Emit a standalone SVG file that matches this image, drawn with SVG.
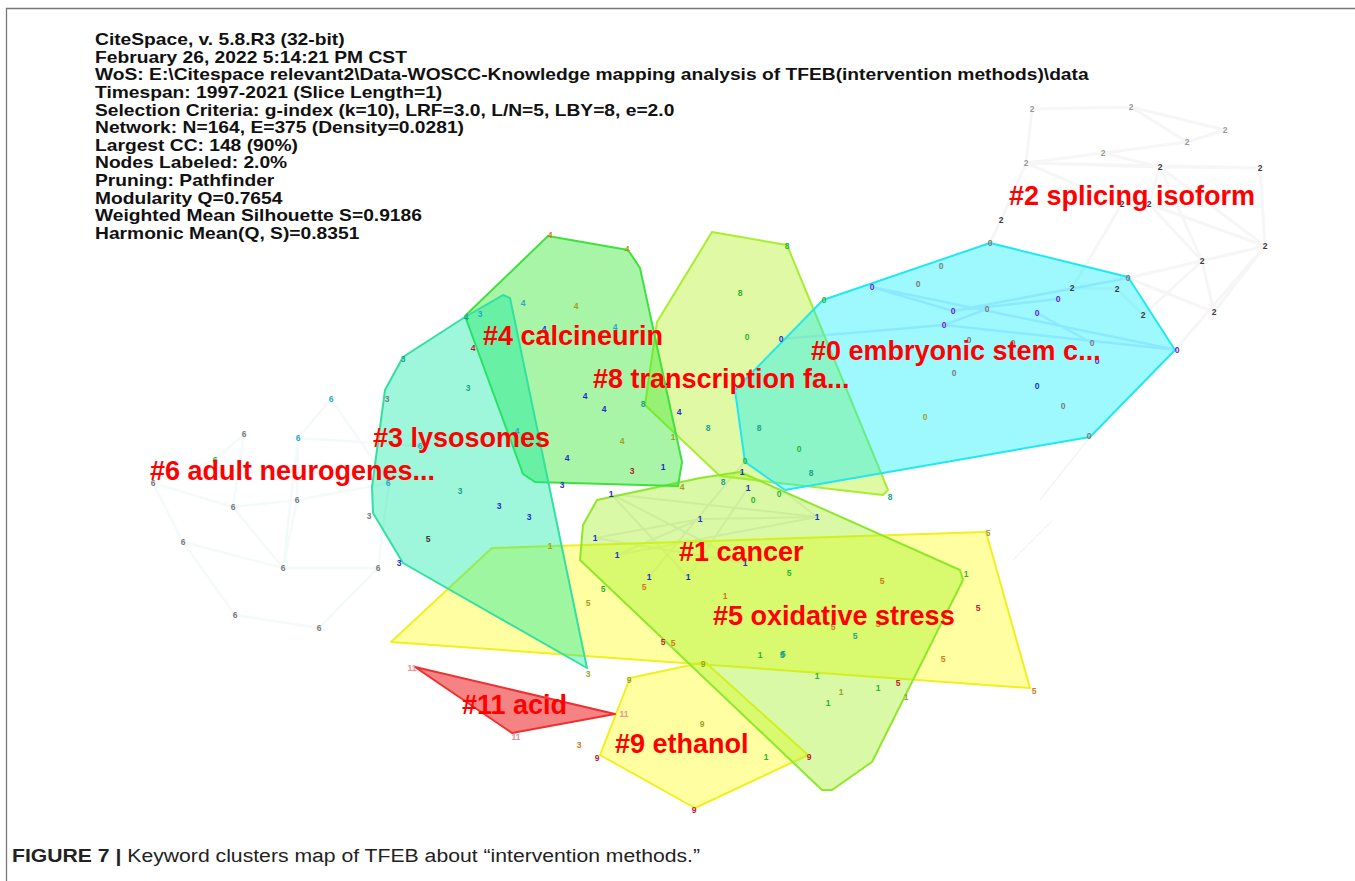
<svg xmlns="http://www.w3.org/2000/svg" width="1355" height="881" viewBox="0 0 1355 881">
<style>
.hdr{font-family:"Liberation Sans",Arial,sans-serif;font-size:16.5px;font-weight:bold;fill:#111}
.lbl{font-family:"Liberation Sans",Arial,sans-serif;font-size:27px;font-weight:bold;fill:#ff0000}
.n{font-family:"Liberation Sans",Arial,sans-serif;font-size:8.5px;font-weight:bold;text-anchor:middle}
.gy{fill:#7a7a7a}.lg{fill:#999999}.dk{fill:#3a3a3a}.pu{fill:#6a1bd1}.bl{fill:#1a2fc7}.te{fill:#1aa38a}.gr{fill:#2bb52b}
.ol{fill:#a0a020}.or{fill:#cc7a1a}.rd{fill:#b82030}.cy{fill:#2aa8c8}.pk{fill:#f09090}
.hull{stroke-width:2;stroke-linejoin:round}
.e2{stroke:#e4e4e4;stroke-opacity:0.35;stroke-width:3;fill:none}
.e6{stroke:#e0eeee;stroke-opacity:0.35;stroke-width:2.5;fill:none}
.e0{stroke:#6e8cff;stroke-opacity:0.22;stroke-width:2.5;fill:none}
.e1{stroke:#8a8aaa;stroke-opacity:0.16;stroke-width:2;fill:none}
.cap{font-family:"Liberation Sans",Arial,sans-serif;font-size:18px;fill:#222}
</style>
<rect width="1355" height="881" fill="#ffffff"/>
<path d="M6.5 881 V8.5 H1355" fill="none" stroke="#777" stroke-width="1.3"/>

<g id="header" class="hdr" transform="translate(95 0) scale(1.165 1)">
<text x="0" y="45">CiteSpace, v. 5.8.R3 (32-bit)</text>
<text x="0" y="62.6">February 26, 2022 5:14:21 PM CST</text>
<text x="0" y="80.3">WoS: E:\Citespace relevant2\Data-WOSCC-Knowledge mapping analysis of TFEB(intervention methods)\data</text>
<text x="0" y="97.9">Timespan: 1997-2021 (Slice Length=1)</text>
<text x="0" y="115.6">Selection Criteria: g-index (k=10), LRF=3.0, L/N=5, LBY=8, e=2.0</text>
<text x="0" y="133.2">Network: N=164, E=375 (Density=0.0281)</text>
<text x="0" y="150.8">Largest CC: 148 (90%)</text>
<text x="0" y="168.5">Nodes Labeled: 2.0%</text>
<text x="0" y="186.1">Pruning: Pathfinder</text>
<text x="0" y="203.8">Modularity Q=0.7654</text>
<text x="0" y="221.4">Weighted Mean Silhouette S=0.9186</text>
<text x="0" y="239">Harmonic Mean(Q, S)=0.8351</text>
</g>

<g id="connectors">
<path class="e2" d="M1032 109L1131 107M1032 109L1026 163M1131 107L1225 130M1131 107L1187 142M1026 163L1103 153M1026 163L1160 167M1026 163L1260 168M1103 153L1187 142M1187 142L1225 130M1160 167L1260 168M1160 167L1265 246M1160 167L1202 261M1260 168L1265 246M1026 163L1001 220M1001 220L990 243M1122 204L1149 204M1149 204L1265 246M1149 204L1202 261M1265 246L1202 261M1202 261L1214 312M1265 246L1214 312M1202 261L1143 315M1117 289L1143 315M1072 288L1117 289M1128 278L1265 246M1160 167L1149 204M1122 204L1072 288M1103 153L1160 167M1026 163L1122 204M1265 246L1175 350M1214 312L1128 278"/>
<path class="e6" d="M331 399L298 438M331 399L389 483M298 438L420 446M298 438L297 500M244 434L233 507M244 434L215 460M215 460L153 483M153 483L233 507M153 483L183 542M233 507L297 500M297 500L283 568M283 568L298 438M283 568L378 568M183 542L235 615M235 615L319 628M319 628L378 568M233 507L283 568M378 568L389 483M183 542L283 568M297 500L389 483"/>
<path class="e0" d="M872 287L1177 350M944 325L1177 350M953 311L1058 299M781 339L944 325M944 325L987 309M1037 313L1092 343M953 311L1128 278M872 287L953 311"/>
<path class="e1" d="M611 494L817 517M611 494L745 563M700 519L595 538M700 519L817 517M595 538L745 563M617 555L817 517M649 577L745 461M688 577L748 488M617 555L700 519M745 461L817 517M611 494L688 577"/>
<path d="M1013 560L1053 520M1090 437L1040 500" stroke="#eeeeee" stroke-opacity="0.6" stroke-width="1.5" fill="none"/>
</g>

<g id="cluster-5">
<polygon class="hull" points="391,642 492,548 986,532 1030,688" fill="#ffff30" fill-opacity="0.45" stroke="#f0f020"/>
</g>
<g id="cluster-9">
<polygon class="hull" points="630,678 705,662 808,755 695,808 600,755" fill="#ffff30" fill-opacity="0.45" stroke="#f0f020"/>
</g>
<g id="cluster-11">
<polygon class="hull" points="415,667 615,714 512,733" fill="#f03030" fill-opacity="0.6" stroke="#ee3030"/>
</g>
<g id="cluster-8">
<polygon class="hull" points="712,232 787,245 888,490 883,495 720,476 645,405 657,322" fill="#b4f028" fill-opacity="0.42" stroke="#a8ee30"/>
</g>
<g id="cluster-0">
<polygon class="hull" points="823,300 990,243 1128,277 1175,350 1090,437 785,490 745,462 735,390" fill="#00eeff" fill-opacity="0.38" stroke="#20e8f0"/>
</g>
<g id="cluster-1">
<polygon class="hull" points="597,500 700,478 740,472 960,570 963,580 872,762 832,790 822,790 580,560 583,525" fill="#a0f020" fill-opacity="0.4" stroke="#8ee82a"/>
</g>
<g id="cluster-4">
<polygon class="hull" points="465,316 548,236 628,250 640,268 682,462 678,486 535,482 523,474" fill="#30e830" fill-opacity="0.42" stroke="#3ee23e"/>
</g>
<g id="cluster-3">
<polygon class="hull" points="465,317 503,295 510,298 587,668 403,563 373,513 372,487 385,390 403,357" fill="#00e8a0" fill-opacity="0.38" stroke="#33e0a0"/>
</g>

<g id="nodes">
<!-- cluster 2 -->
<text class="n lg" x="1032" y="112">2</text><text class="n lg" x="1131" y="110">2</text><text class="n lg" x="1225" y="133">2</text><text class="n lg" x="1187" y="145">2</text><text class="n lg" x="1103" y="156">2</text><text class="n lg" x="1026" y="166">2</text><text class="n dk" x="1160" y="170">2</text><text class="n dk" x="1260" y="171">2</text><text class="n dk" x="1001" y="223">2</text><text class="n dk" x="1122" y="207">2</text><text class="n dk" x="1149" y="207">2</text><text class="n dk" x="1265" y="249">2</text><text class="n dk" x="1202" y="264">2</text><text class="n dk" x="1072" y="291">2</text><text class="n dk" x="1117" y="292">2</text><text class="n dk" x="1143" y="318">2</text><text class="n dk" x="1214" y="315">2</text>
<!-- cluster 0 -->
<text class="n gy" x="990" y="246">0</text><text class="n gy" x="941" y="269">0</text><text class="n gy" x="918" y="287">0</text><text class="n pu" x="872" y="290">0</text><text class="n gr" x="824" y="303">0</text><text class="n gy" x="1128" y="281">0</text><text class="n pu" x="1058" y="302">0</text><text class="n pu" x="953" y="314">0</text><text class="n gy" x="987" y="312">0</text><text class="n pu" x="1037" y="316">0</text><text class="n pu" x="944" y="328">0</text><text class="n bl" x="781" y="342">0</text><text class="n gr" x="747" y="340">0</text><text class="n gy" x="969" y="343">0</text><text class="n gy" x="1013" y="346">0</text><text class="n gy" x="1092" y="346">0</text><text class="n pu" x="1177" y="353">0</text><text class="n pu" x="1097" y="364">0</text><text class="n gy" x="954" y="376">0</text><text class="n bl" x="1037" y="389">0</text><text class="n gy" x="1063" y="409">0</text><text class="n ol" x="925" y="420">0</text><text class="n gy" x="1089" y="439">0</text><text class="n gr" x="799" y="452">0</text><text class="n gr" x="745" y="464">0</text><text class="n gr" x="779" y="497">0</text><text class="n gr" x="753" y="503">0</text>
<!-- cluster 8 -->
<text class="n gr" x="787" y="249">8</text><text class="n gr" x="740" y="296">8</text><text class="n te" x="643" y="407">8</text><text class="n te" x="708" y="431">8</text><text class="n te" x="759" y="431">8</text><text class="n te" x="811" y="476">8</text><text class="n te" x="723" y="485">8</text><text class="n te" x="890" y="500">8</text>
<!-- cluster 4 -->
<text class="n or" x="550" y="238">4</text><text class="n ol" x="627" y="252">4</text><text class="n cy" x="523" y="306">4</text><text class="n ol" x="576" y="309">4</text><text class="n cy" x="480" y="317">3</text><text class="n te" x="466" y="320">4</text><text class="n bl" x="544" y="332">4</text><text class="n cy" x="615" y="330">4</text><text class="n rd" x="473" y="351">4</text><text class="n bl" x="668" y="386">4</text><text class="n bl" x="585" y="399">4</text><text class="n bl" x="604" y="412">4</text><text class="n bl" x="679" y="415">4</text><text class="n cy" x="517" y="434">4</text><text class="n ol" x="622" y="444">4</text><text class="n ol" x="673" y="440">1</text><text class="n bl" x="567" y="461">4</text><text class="n rd" x="632" y="474">3</text><text class="n bl" x="663" y="470">1</text><text class="n bl" x="562" y="488">3</text><text class="n ol" x="682" y="490">4</text>
<!-- cluster 3 -->
<text class="n te" x="403" y="362">3</text><text class="n gy" x="387" y="402">3</text><text class="n te" x="468" y="391">3</text><text class="n cy" x="420" y="449">6</text><text class="n cy" x="388" y="486">6</text><text class="n te" x="460" y="494">3</text><text class="n bl" x="499" y="509">3</text><text class="n bl" x="529" y="520">3</text><text class="n gy" x="369" y="519">3</text><text class="n dk" x="428" y="542">5</text><text class="n bl" x="399" y="566">3</text><text class="n ol" x="550" y="549">1</text><text class="n ol" x="588" y="677">3</text>
<!-- cluster 6 -->
<text class="n cy" x="331" y="402">6</text><text class="n gy" x="244" y="437">6</text><text class="n cy" x="298" y="441">6</text><text class="n gr" x="215" y="463">6</text><text class="n gy" x="153" y="486">6</text><text class="n gy" x="297" y="503">6</text><text class="n gy" x="233" y="510">6</text><text class="n gy" x="183" y="545">6</text><text class="n gy" x="283" y="571">6</text><text class="n gy" x="378" y="571">6</text><text class="n gy" x="235" y="618">6</text><text class="n gy" x="319" y="631">6</text>
<!-- cluster 1 / 5 -->
<text class="n bl" x="611" y="497">1</text><text class="n bl" x="742" y="475">1</text><text class="n bl" x="748" y="491">1</text><text class="n bl" x="700" y="522">1</text><text class="n bl" x="817" y="520">1</text><text class="n bl" x="595" y="541">1</text><text class="n bl" x="617" y="558">1</text><text class="n bl" x="745" y="566">1</text><text class="n bl" x="649" y="580">1</text><text class="n bl" x="688" y="580">1</text><text class="n or" x="644" y="590">5</text><text class="n gr" x="603" y="592">5</text><text class="n ol" x="588" y="606">5</text><text class="n gr" x="789" y="576">5</text><text class="n or" x="725" y="599">1</text>
<text class="n ol" x="988" y="536">5</text><text class="n gr" x="966" y="577">1</text><text class="n or" x="882" y="584">5</text><text class="n rd" x="978" y="611">5</text><text class="n or" x="833" y="630">5</text><text class="n or" x="878" y="627">5</text><text class="n te" x="855" y="639">5</text><text class="n te" x="783" y="657">5</text><text class="n or" x="943" y="662">5</text><text class="n gr" x="817" y="679">1</text><text class="n gr" x="878" y="691">1</text><text class="n ol" x="841" y="695">1</text><text class="n rd" x="898" y="686">5</text><text class="n ol" x="906" y="700">1</text><text class="n gr" x="828" y="706">1</text><text class="n or" x="1034" y="694">5</text>
<text class="n rd" x="663" y="645">5</text><text class="n or" x="673" y="646">5</text><text class="n ol" x="703" y="667">9</text><text class="n gr" x="760" y="658">1</text><text class="n te" x="782" y="658">5</text>
<!-- cluster 9 / 11 -->
<text class="n ol" x="629" y="683">9</text><text class="n ol" x="702" y="727">9</text><text class="n or" x="579" y="748">3</text><text class="n rd" x="597" y="761">9</text><text class="n gr" x="766" y="760">1</text><text class="n rd" x="809" y="760">9</text><text class="n rd" x="694" y="813">9</text>
<text class="n pk" x="412" y="671">11</text><text class="n pk" x="624" y="717">11</text><text class="n pk" x="516" y="740">11</text>
</g>

<g id="labels">
<text class="lbl" x="1009" y="205">#2 splicing isoform</text>
<text class="lbl" x="483" y="345">#4 calcineurin</text>
<text class="lbl" x="811" y="360">#0 embryonic stem c...</text>
<text class="lbl" x="593" y="388">#8 transcription fa...</text>
<text class="lbl" x="373" y="447">#3 lysosomes</text>
<text class="lbl" x="150" y="480">#6 adult neurogenes...</text>
<text class="lbl" x="679" y="561">#1 cancer</text>
<text class="lbl" x="713" y="625">#5 oxidative stress</text>
<text class="lbl" x="462" y="714">#11 acid</text>
<text class="lbl" x="615" y="753">#9 ethanol</text>
</g>

<text class="cap" x="12" y="862" textLength="688" lengthAdjust="spacingAndGlyphs"><tspan font-weight="bold">FIGURE 7 | </tspan>Keyword clusters map of TFEB about “intervention methods.”</text>
</svg>
